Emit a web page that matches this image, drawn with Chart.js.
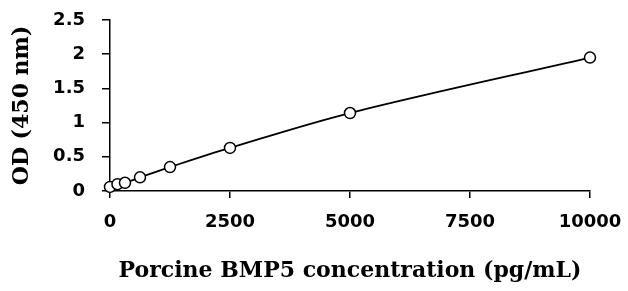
<!DOCTYPE html>
<html>
<head>
<meta charset="utf-8">
<script src="https://cdn.jsdelivr.net/npm/chart.js@4/dist/chart.umd.min.js"></script>
<style>
  html, body { margin: 0; padding: 0; background: #fff; }
  #wrap { width: 628px; height: 291px; }
</style>
</head>
<body>
<div id="wrap"><canvas id="chartCurva"></canvas></div>
<script>
const concentracion = [0, 156, 312, 625, 1250, 2500, 5000, 10000];
const od = [0.06, 0.10, 0.12, 0.20, 0.35, 0.63, 1.14, 1.95];
const xTicks = [0, 2500, 5000, 7500, 10000];
const yTicks = [0, 0.5, 1, 1.5, 2, 2.5];

const tickFont = { family: 'DejaVu Sans', weight: 'bold', size: 18 };
const titleFont = { family: 'DejaVu Serif', weight: 'bold', size: 22 };

const puntos = concentracion.map((c, i) => ({ x: c, y: od[i] }));

new Chart(document.getElementById('chartCurva').getContext('2d'), {
    type: 'scatter',
    data: {
        datasets: [{
            label: 'OD',
            data: puntos,
            showLine: true,
            clip: false,
            tension: 0.35,
            borderColor: '#000',
            borderWidth: 1.8,
            backgroundColor: '#fff',
            pointBackgroundColor: '#fff',
            pointBorderColor: '#000',
            pointBorderWidth: 1.5,
            pointRadius: 5.5
        }]
    },
    options: {
        responsive: true,
        maintainAspectRatio: false,
        animation: false,
        layout: { padding: { top: 20, right: 38, left: 9, bottom: 7 } },
        plugins: { legend: { display: false }, tooltip: { enabled: false } },
        scales: {
            x: {
                type: 'linear',
                min: 0, max: 10000,
                afterBuildTicks: axis => { axis.ticks = xTicks.map(v => ({ value: v })); },
                afterFit: axis => { axis.height = 93; axis.paddingLeft = 0; axis.paddingRight = 0; },
                grid: { display: true, drawOnChartArea: false, drawTicks: true, tickLength: 7, color: '#000', lineWidth: 1.5 },
                border: { color: '#000', width: 1.5 },
                ticks: { color: '#000', font: tickFont, padding: 14, maxRotation: 0, callback: v => String(v) },
                title: { display: true, text: 'Porcine BMP5 concentration (pg/mL)', color: '#000', font: titleFont, padding: 0 }
            },
            y: {
                min: 0, max: 2.5,
                afterBuildTicks: axis => { axis.ticks = yTicks.map(v => ({ value: v })); },
                afterFit: axis => { axis.width = 101; axis.paddingTop = 0; axis.paddingBottom = 0; },
                grid: { display: true, drawOnChartArea: false, drawTicks: true, tickLength: 8, color: '#000', lineWidth: 1.5 },
                border: { color: '#000', width: 1.5 },
                ticks: { color: '#000', font: tickFont, padding: 17, callback: v => String(v) },
                title: { display: true, text: 'OD (450 nm)', color: '#000', font: titleFont, padding: 0 }
            }
        }
    }
});
</script>
</body>
</html>
